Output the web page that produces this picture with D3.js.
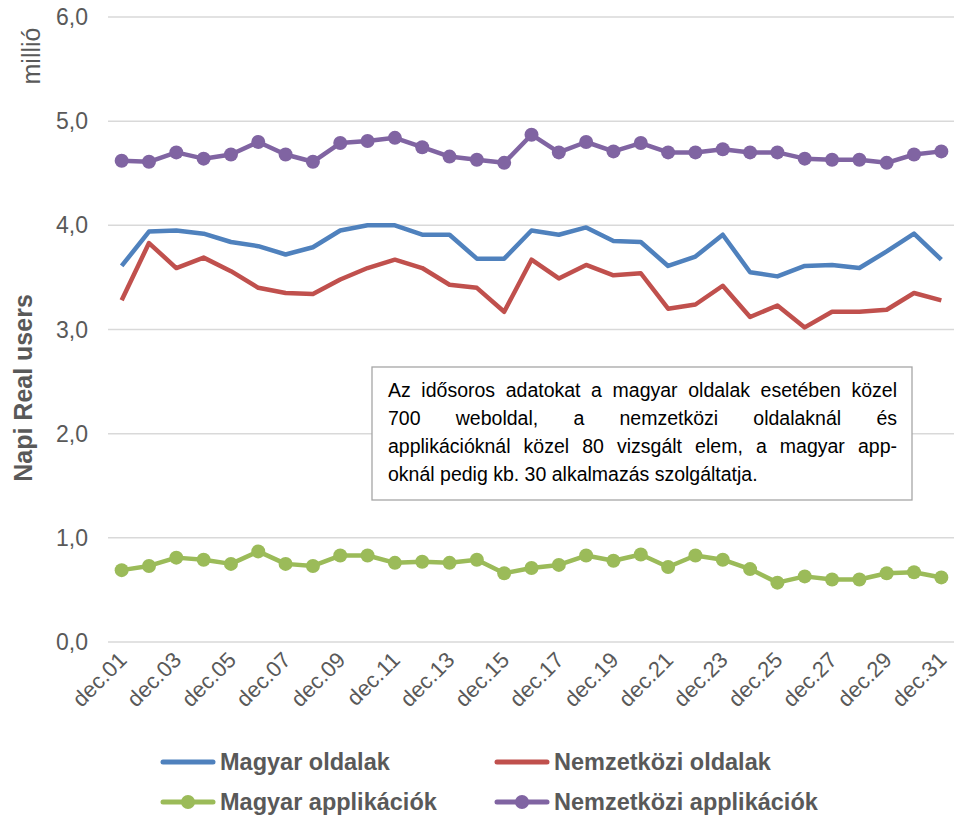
<!DOCTYPE html>
<html>
<head>
<meta charset="utf-8">
<script src="https://cdn.jsdelivr.net/npm/d3@7"></script>
<style>
  body { margin: 0; background: #fff; }
  svg { display: block; font-family: Arial, "Liberation Sans", sans-serif; }
</style>
</head>
<body>
<div id="chart"></div>
<script>
// adatok
var napok = d3.range(1, 32).map(function(d){ return "dec." + (d < 10 ? "0" + d : d); });
var magyarOldalak = [3.61,3.94,3.95,3.92,3.84,3.80,3.72,3.79,3.95,4.00,4.00,3.91,3.91,3.68,3.68,3.95,3.91,3.98,3.85,3.84,3.61,3.70,3.91,3.55,3.51,3.61,3.62,3.59,3.75,3.92,3.67];
var nemzetkoziOldalak = [3.28,3.83,3.59,3.69,3.56,3.40,3.35,3.34,3.48,3.59,3.67,3.59,3.43,3.40,3.17,3.67,3.49,3.62,3.52,3.54,3.20,3.24,3.42,3.12,3.23,3.02,3.17,3.17,3.19,3.35,3.28];
var magyarApp = [0.69,0.73,0.81,0.79,0.75,0.87,0.75,0.73,0.83,0.83,0.76,0.77,0.76,0.79,0.66,0.71,0.74,0.83,0.78,0.84,0.72,0.83,0.79,0.70,0.57,0.63,0.60,0.60,0.66,0.67,0.62];
var nemzetkoziApp = [4.62,4.61,4.70,4.64,4.68,4.80,4.68,4.61,4.79,4.81,4.84,4.75,4.66,4.63,4.60,4.87,4.70,4.80,4.71,4.79,4.70,4.70,4.73,4.70,4.70,4.64,4.63,4.63,4.60,4.68,4.71];
var yTicks = [0,1,2,3,4,5,6];

var sorozatok = [
  {nev: "Magyar oldalak", ertek: magyarOldalak, szin: "#4f81bd", pont: false},
  {nev: "Nemzetközi oldalak", ertek: nemzetkoziOldalak, szin: "#c0504d", pont: false},
  {nev: "Magyar applikációk", ertek: magyarApp, szin: "#9bbb59", pont: true},
  {nev: "Nemzetközi applikációk", ertek: nemzetkoziApp, szin: "#8064a2", pont: true}
];

var szoveg = [
  "Az idősoros adatokat a magyar oldalak esetében közel",
  "700 weboldal, a nemzetközi oldalaknál és",
  "applikációknál közel 80 vizsgált elem, a magyar app-",
  "oknál pedig kb. 30 alkalmazás szolgáltatja."
];

var W = 954, H = 817;
var svg = d3.select("#chart").append("svg").attr("width", W).attr("height", H);

// skálák
var x = d3.scaleBand().domain(napok).range([108, 955]);
var y = d3.scaleLinear().domain([0, 6]).range([642, 17]);
var cx = function(i){ return x(napok[i]) + x.bandwidth() / 2; };

// rács
svg.append("g").selectAll("line").data(yTicks).enter().append("line")
  .attr("x1", 108).attr("x2", W)
  .attr("y1", function(d){ return y(d); }).attr("y2", function(d){ return y(d); })
  .attr("stroke", "#d9d9d9").attr("stroke-width", 1.5);

// y tengely feliratok
svg.append("g").selectAll("text").data(yTicks).enter().append("text")
  .attr("x", 88).attr("y", function(d){ return y(d); })
  .attr("dy", "0.35em").attr("text-anchor", "end")
  .style("font-size", "23px").attr("fill", "#595959")
  .text(function(d){ return d3.format(".1f")(d).replace(".", ","); });

// x tengely feliratok (minden második nap)
svg.append("g").selectAll("text").data(napok.filter(function(d, i){ return i % 2 === 0; }))
  .enter().append("text")
  .attr("transform", function(d){ return "translate(" + (x(d) + x.bandwidth()/2 + 1) + ",656) rotate(-45)"; })
  .attr("text-anchor", "end").attr("dy", "0.35em")
  .style("font-size", "22px").attr("fill", "#595959")
  .text(function(d){ return d; });

// tengelycímek
svg.append("text").attr("transform", "translate(40,56) rotate(-90)")
  .attr("text-anchor", "middle").style("font-size", "25px").attr("fill", "#595959")
  .text("millió");
svg.append("text").attr("transform", "translate(32,388) rotate(-90)")
  .attr("text-anchor", "middle").style("font-size", "25px").style("font-weight", "bold")
  .attr("fill", "#595959").text("Napi Real users");

// vonalak
var vonal = d3.line().x(function(d, i){ return cx(i); }).y(function(d){ return y(d); });
sorozatok.forEach(function(s){
  svg.append("path").attr("d", vonal(s.ertek))
    .attr("fill", "none").attr("stroke", s.szin).attr("stroke-width", 4.5)
    .attr("stroke-linejoin", "round");
  if (s.pont) {
    svg.append("g").selectAll("circle").data(s.ertek).enter().append("circle")
      .attr("cx", function(d, i){ return cx(i); }).attr("cy", function(d){ return y(d); })
      .attr("r", 7).attr("fill", s.szin);
  }
});

// szövegdoboz
var doboz = svg.append("g");
doboz.append("rect").attr("x", 372).attr("y", 367).attr("width", 540).attr("height", 133)
  .attr("fill", "#fff").attr("stroke", "#a6a6a6").attr("stroke-width", 1.3);
var bal = 388, jobb = 897;
szoveg.forEach(function(sor, k){
  var ty = 397 + k * 28;
  var szavak = sor.split(" ");
  if (k === szoveg.length - 1) {
    doboz.append("text").attr("x", bal).attr("y", ty).style("font-size", "19.5px")
      .attr("fill", "#000").text(sor);
    return;
  }
  // sorkizárt sor
  var elemek = szavak.map(function(w){
    return doboz.append("text").attr("y", ty).style("font-size", "19.5px").attr("fill", "#000").text(w);
  });
  var szel = elemek.map(function(e){ return e.node().getComputedTextLength(); });
  var res = (jobb - bal - d3.sum(szel)) / (szavak.length - 1);
  var pos = bal;
  elemek.forEach(function(e, i){ e.attr("x", pos); pos += szel[i] + res; });
});

// jelmagyarázat
var jel = svg.append("g");
var helyek = [[163, 762], [497, 762], [163, 802], [497, 802]];
sorozatok.forEach(function(s, i){
  var p = helyek[i];
  jel.append("line").attr("x1", p[0]).attr("x2", p[0] + 50).attr("y1", p[1]).attr("y2", p[1])
    .attr("stroke", s.szin).attr("stroke-width", 5).attr("stroke-linecap", "round");
  if (s.pont) jel.append("circle").attr("cx", p[0] + 25).attr("cy", p[1]).attr("r", 7).attr("fill", s.szin);
  jel.append("text").attr("x", p[0] + 57).attr("y", p[1]).attr("dy", "0.35em")
    .style("font-size", "23.5px").style("font-weight", "bold").attr("fill", "#595959").text(s.nev);
});
</script>
</body>
</html>
